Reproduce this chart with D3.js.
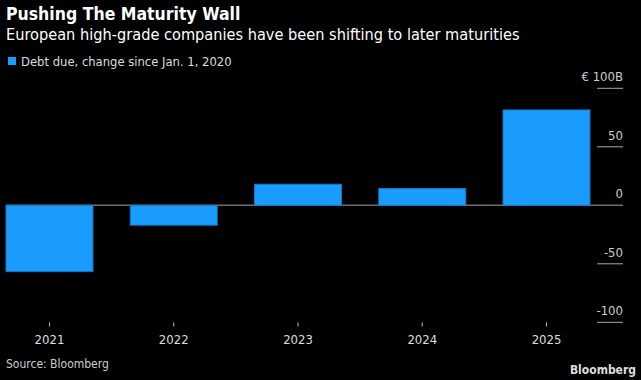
<!DOCTYPE html>
<html><head><meta charset="utf-8">
<script src="https://cdn.jsdelivr.net/npm/d3@7"></script>
<style>
body{margin:0;background:#000;}
svg{display:block;}
text{font-family:"Liberation Sans Narrow","DejaVu Sans Condensed","Liberation Sans",sans-serif;}
</style></head><body>
<svg id="c" width="641" height="380"></svg>
<script>
const categories = ["2021","2022","2023","2024","2025"];
const values = [-56.7, -17.0, 18.0, 14.3, 81.5];
const yTicks = [100, 50, 0, -50, -100];
const yTickLabels = ["€ 100B", "50", "0", "-50", "-100"];
const title = "Pushing The Maturity Wall";
const subtitle = "European high-grade companies have been shifting to later maturities";
const legendLabel = "Debt due, change since Jan. 1, 2020";
const source = "Source: Bloomberg";

const svg = d3.select("#c");
svg.append("rect").attr("width",641).attr("height",380).attr("fill","#000");

const x = d3.scaleBand().domain(categories).range([6, 590]).paddingInner(0.3).paddingOuter(0);
const y = d3.scaleLinear().domain([-100, 100]).range([322.3, 88.3]);

svg.append("text").attr("x",6).attr("y",20).attr("fill","#fff")
  .attr("font-size",17.5).attr("font-weight","bold").text(title);
svg.append("text").attr("x",6).attr("y",40).attr("fill","#fff")
  .attr("font-size",16.2).text(subtitle);
svg.append("rect").attr("x",8).attr("y",57).attr("width",8).attr("height",8).attr("fill","#1a9cff");
svg.append("text").attr("x",21).attr("y",65.5).attr("fill","#ddd")
  .attr("font-size",12.9).text(legendLabel);

// zero line
svg.append("line").attr("x1",6).attr("x2",623).attr("y1",y(0)).attr("y2",y(0))
  .attr("stroke","#6e6e6e").attr("stroke-width",1.5);

// bars
svg.append("g").selectAll("rect").data(values).join("rect")
  .attr("x",(d,i)=>x(categories[i]))
  .attr("width",x.bandwidth())
  .attr("y",d=>y(Math.max(0,d)))
  .attr("height",d=>Math.abs(y(d)-y(0)))
  .attr("fill","#1a9cff").attr("stroke","#1577c4").attr("stroke-width",1);

// y axis (right, custom style)
const yg = svg.append("g");
yg.selectAll("line").data(yTicks).join("line")
  .attr("x1",597).attr("x2",623).attr("y1",d=>y(d)).attr("y2",d=>y(d))
  .attr("stroke", d=> d===0 ? "none" : "#aaa").attr("stroke-width",1);
yg.selectAll("text").data(yTicks).join("text")
  .attr("x",623).attr("y",d=>y(d)-7).attr("text-anchor","end")
  .attr("fill","#ccc").attr("font-size",13)
  .text((d,i)=>yTickLabels[i]);

// x axis
const xAxis = d3.axisBottom(x).tickSize(4).tickPadding(8);
const xg = svg.append("g").attr("transform","translate(0,322.5)").call(xAxis);
xg.select(".domain").remove();
xg.selectAll(".tick line").attr("stroke","#bbb");
xg.selectAll(".tick text").attr("fill","#ddd").attr("font-size",13)
  .attr("font-family","'Liberation Sans Narrow','DejaVu Sans Condensed',sans-serif");

svg.append("text").attr("x",6).attr("y",368).attr("fill","#ccc").attr("font-size",12).text(source);
svg.append("text").attr("x",636).attr("y",374).attr("text-anchor","end").attr("fill","#ddd")
  .attr("font-size",12).attr("font-weight","bold").attr("font-family","'Liberation Sans Narrow','Liberation Sans',sans-serif")
  .text("Bloomberg");
</script>
</body></html>
